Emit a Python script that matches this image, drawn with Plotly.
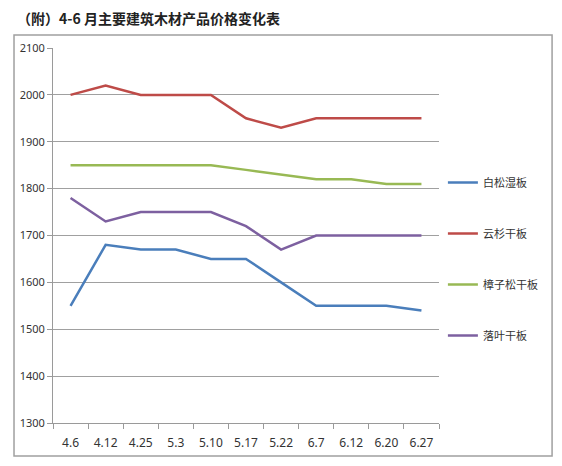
import plotly.graph_objects as go

categories = ["4.6", "4.12", "4.25", "5.3", "5.10", "5.17", "5.22", "6.7", "6.12", "6.20", "6.27"]
baisong = [1550, 1680, 1670, 1670, 1650, 1650, 1600, 1550, 1550, 1550, 1540]
yunshan = [2000, 2020, 2000, 2000, 2000, 1950, 1930, 1950, 1950, 1950, 1950]
zhangzisong = [1850, 1850, 1850, 1850, 1850, 1840, 1830, 1820, 1820, 1810, 1810]
luoye = [1780, 1730, 1750, 1750, 1750, 1720, 1670, 1700, 1700, 1700, 1700]

series_names = ["白松湿板", "云杉干板", "樟子松干板", "落叶干板"]
series_values = [baisong, yunshan, zhangzisong, luoye]
colors = ["#4A7EBB", "#BE4B48", "#98B954", "#7D60A0"]

fig = go.Figure()
for i, (name, vals, c) in enumerate(zip(series_names, series_values, colors)):
    fig.add_trace(go.Scatter(
        x=categories, y=vals, name=name, mode="lines",
        line=dict(color=c, width=2.5),
        legendgroup=f"g{i}",
    ))

# page body adds an 8px margin; compensate so the picture lands where the reference is
OFF = 8
W, H = 562 - OFF, 466 - OFF
# target plot area in window pixels: x 43..439, y 48..423
ml = 43 - OFF
mt = 48 - OFF
mr = W - (439 - OFF)
mb = H - (423 - OFF)
pw, ph = W - ml - mr, H - mt - mb

def px_x(x):
    return (x - OFF - ml) / pw

def px_y(y):
    return (H - mb - (y - OFF)) / ph

fig.update_layout(
    width=W, height=H,
    margin=dict(l=ml, r=mr, t=mt, b=mb),
    paper_bgcolor="white", plot_bgcolor="white",
    font=dict(family="Noto Sans, Noto Sans CJK SC, sans-serif", size=11, color="#333333"),
    showlegend=True,
    legend=dict(
        x=px_x(443), y=px_y(168), xanchor="left", yanchor="top",
        traceorder="grouped", tracegroupgap=32,
        font=dict(family="Noto Sans CJK SC, sans-serif", size=11, color="#333333"),
        itemwidth=30, bgcolor="rgba(0,0,0,0)",
    ),
    xaxis=dict(
        type="category", range=[-0.5, len(categories) - 0.5],
        showgrid=False, showline=True, linecolor="#9A9A9A", linewidth=1,
        ticks="outside", tickson="boundaries", ticklen=5, tickcolor="#9A9A9A",
        tickfont=dict(size=12, color="#333333"), ticklabelstandoff=9,
    ),
    yaxis=dict(
        range=[1300, 2100], dtick=100, showgrid=True, gridcolor="#A0A0A0", gridwidth=1,
        showline=True, linecolor="#9A9A9A", linewidth=1, ticks="outside", ticklen=5,
        tickcolor="#9A9A9A", tickfont=dict(size=11, color="#333333"), zeroline=False,
    ),
    shapes=[dict(
        type="rect", xref="paper", yref="paper",
        x0=px_x(3), x1=px_x(555), y0=px_y(456), y1=px_y(35),
        line=dict(color="#A0A0A0", width=1.5), fillcolor="rgba(0,0,0,0)", layer="below",
    )],
    annotations=[dict(
        text="<b>（附）4-6 月主要建筑木材产品价格变化表</b>",
        xref="paper", yref="paper", x=px_x(4), y=px_y(18),
        xanchor="left", yanchor="middle", showarrow=False,
        font=dict(family="Noto Sans CJK SC, sans-serif", size=14, color="#222222"),
    )],
)

fig.write_html("out.html")
